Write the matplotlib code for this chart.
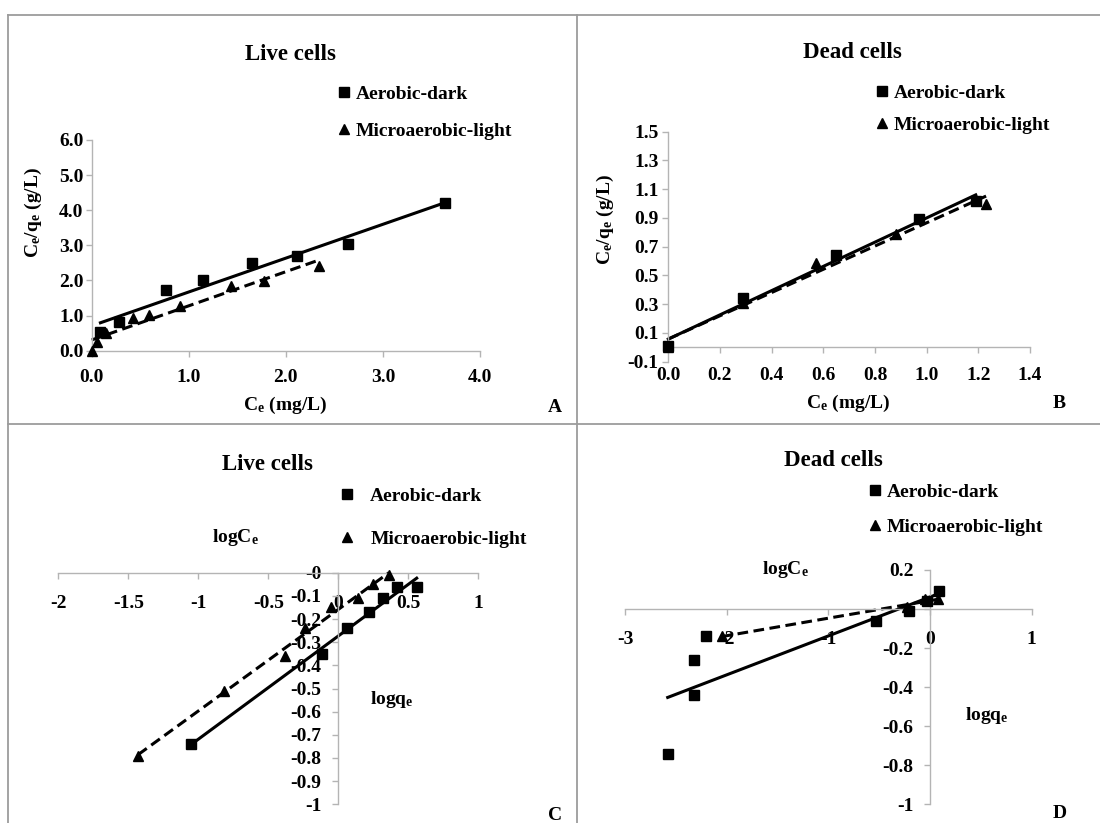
import numpy as np
import matplotlib
matplotlib.use('Agg')
import matplotlib.pyplot as plt
from matplotlib.lines import Line2D
from matplotlib.ticker import FuncFormatter

plt.rcParams['font.family'] = 'Liberation Serif'
plt.rcParams['font.weight'] = 'bold'
plt.rcParams['mathtext.fontset'] = 'custom'
plt.rcParams['mathtext.rm'] = 'Liberation Serif:bold'
plt.rcParams['mathtext.it'] = 'Liberation Serif:bold'
plt.rcParams['mathtext.bf'] = 'Liberation Serif:bold'
plt.rcParams['axes.unicode_minus'] = False

# A - Langmuir, live cells: Ce (mg/L) vs Ce/qe (g/L)
a_dark_ce = [0.09, 0.28, 0.77, 1.15, 1.65, 2.11, 2.64, 3.64]
a_dark_cq = [0.54, 0.83, 1.73, 2.01, 2.49, 2.71, 3.04, 4.20]
a_light_ce = [0.00, 0.05, 0.15, 0.43, 0.59, 0.91, 1.44, 1.77, 2.34]
a_light_cq = [0.00, 0.26, 0.49, 0.92, 1.03, 1.27, 1.84, 1.99, 2.42]

# B - Langmuir, dead cells
b_dark_ce = [0.00, 0.29, 0.65, 0.97, 1.19]
b_dark_cq = [0.01, 0.34, 0.64, 0.89, 1.02]
b_light_ce = [0.00, 0.29, 0.57, 0.88, 1.23]
b_light_cq = [0.00, 0.31, 0.59, 0.79, 1.00]

# C - Freundlich, live cells: logCe vs logqe
c_dark_x = [-1.05, -0.12, 0.06, 0.22, 0.32, 0.42, 0.56]
c_dark_y = [-0.74, -0.35, -0.24, -0.17, -0.11, -0.06, -0.06]
c_light_x = [-1.43, -0.82, -0.38, -0.24, -0.05, 0.14, 0.25, 0.36]
c_light_y = [-0.79, -0.51, -0.36, -0.24, -0.15, -0.11, -0.05, -0.01]

# D - Freundlich, dead cells
d_dark_x = [-2.58, -2.32, -2.32, -2.20, -0.53, -0.21, -0.03, 0.09]
d_dark_y = [-0.74, -0.44, -0.26, -0.14, -0.06, -0.01, 0.04, 0.09]
d_light_x = [-2.05, -0.23, -0.05, 0.08]
d_light_y = [-0.14, 0.01, 0.05, 0.05]

legend_labels = ['Aerobic-dark', 'Microaerobic-light']

W, H = 1100, 823
fig = plt.figure(figsize=(W / 100, H / 100), dpi=100)
fig.patch.set_facecolor('white')

AX_GREY = '#b4b4b4'
FS = 14


def add_ax(left, right, top, bottom):
    return fig.add_axes([left / W, 1 - bottom / H, (right - left) / W, (bottom - top) / H])


def ftext(x, y, s, **kw):
    kw.setdefault('fontsize', FS)
    kw.setdefault('ha', 'center')
    kw.setdefault('va', 'center')
    fig.text(x / W, 1 - y / H, s, **kw)


def style(ax):
    for s in ['top', 'right']:
        ax.spines[s].set_visible(False)
    for s in ['left', 'bottom']:
        ax.spines[s].set_color(AX_GREY)
        ax.spines[s].set_linewidth(1.0)
    ax.tick_params(colors=AX_GREY, labelcolor='black', labelsize=FS, width=1.0, length=4)
    ax.patch.set_alpha(0)


def series(ax, x, y, marker, ls, ms):
    ax.plot(x, y, ls='none', marker=marker, color='black', ms=ms, clip_on=False, zorder=3)
    fit = np.polyfit(x, y, 1)
    xs = np.array([min(x), max(x)])
    ax.plot(xs, np.polyval(fit, xs), color='black', lw=2.2, ls=ls, clip_on=False,
            dashes=(3.5, 1.8) if ls == '--' else (None, None), zorder=2)


def legend(ax, x, y, spacing, pad):
    handles = [Line2D([], [], ls='none', marker='s', color='black', ms=6.5),
               Line2D([], [], ls='none', marker='^', color='black', ms=7)]
    ax.legend(handles, legend_labels, loc='upper left', bbox_to_anchor=(x / W, 1 - y / H),
              bbox_transform=fig.transFigure, frameon=False, fontsize=FS,
              handlelength=0.6, handletextpad=pad, labelspacing=spacing,
              borderpad=0, borderaxespad=0)


fmt1 = FuncFormatter(lambda v, p: '%.1f' % v)
fmtg = FuncFormatter(lambda v, p: '%g' % round(v, 2))

# panel frames
for xs_, ys_ in [([8, W], [15, 15]), ([8, W], [424, 424]),
                 ([8, 8], [15, H]), ([577, 577], [15, H])]:
    fig.add_artist(Line2D([v / W for v in xs_], [1 - v / H for v in ys_],
                          transform=fig.transFigure, color='#9c9c9c', lw=1.3))

# ---- A ----
ax = add_ax(91.7, 480, 140, 350.7)
style(ax)
series(ax, a_dark_ce, a_dark_cq, 's', '-', 7)
series(ax, a_light_ce, a_light_cq, '^', '--', 7.5)
ax.set_xlim(0, 4)
ax.set_ylim(0, 6)
ax.set_xticks(np.arange(0, 4.01, 1))
ax.set_yticks(np.arange(0, 6.01, 1))
ax.xaxis.set_major_formatter(fmt1)
ax.yaxis.set_major_formatter(fmt1)
ax.tick_params(axis='x', pad=9)
ax.tick_params(axis='y', pad=2)
legend(ax, 338, 85, 1.0, 0.3)
ftext(290, 55, 'Live cells', fontsize=16.5)
ftext(33, 213, r'C$_\mathrm{e}$/q$_\mathrm{e}$ (g/L)', rotation=90)
ftext(285, 405, r'C$_\mathrm{e}$ (mg/L)')
ftext(555, 408, 'A')

# ---- B ----
ax = add_ax(668.3, 1030, 131.7, 361.7)
style(ax)
series(ax, b_dark_ce, b_dark_cq, 's', '-', 7)
series(ax, b_light_ce, b_light_cq, '^', '--', 7.5)
ax.set_xlim(0, 1.4)
ax.set_ylim(-0.1, 1.5)
ax.spines['bottom'].set_position(('data', 0))
ax.set_xticks(np.arange(0, 1.41, 0.2))
ax.set_yticks(np.arange(-0.1, 1.51, 0.2))
ax.yaxis.set_major_formatter(fmt1)
ax.tick_params(axis='x', labelbottom=False)
ax.tick_params(axis='y', pad=3)
sec = ax.secondary_xaxis(0.0)
sec.spines['bottom'].set_visible(False)
sec.set_xticks(np.arange(0, 1.41, 0.2))
sec.xaxis.set_major_formatter(fmt1)
sec.tick_params(length=0, labelsize=FS, pad=4)
legend(ax, 876, 84, 0.75, 0.3)
ftext(852, 53, 'Dead cells', fontsize=16.5)
ftext(605, 220, r'C$_\mathrm{e}$/q$_\mathrm{e}$ (g/L)', rotation=90)
ftext(848, 403, r'C$_\mathrm{e}$ (mg/L)')
ftext(1059, 403, 'B')

# ---- C ----
ax = add_ax(58.3, 478.3, 572.7, 804.3)
style(ax)
series(ax, c_dark_x, c_dark_y, 's', '-', 7)
series(ax, c_light_x, c_light_y, '^', '--', 7.5)
ax.set_xlim(-2, 1)
ax.set_ylim(-1, 0)
ax.spines['left'].set_position(('data', 0))
ax.spines['bottom'].set_position(('data', 0))
ax.set_xticks(np.arange(-2, 1.01, 0.5))
ax.set_yticks(np.arange(-1, 0.01, 0.1))
ax.xaxis.set_major_formatter(fmtg)
ax.yaxis.set_major_formatter(fmtg)
ax.tick_params(axis='x', pad=12)
ax.tick_params(axis='y', pad=8)
legend(ax, 341, 487, 1.3, 0.9)
ftext(267, 465, 'Live cells', fontsize=16.5)
ftext(235, 538, r'logC$_\mathrm{e}$')
ftext(392, 700, r'logq$_\mathrm{e}$')
ftext(555, 815, 'C')

# ---- D ----
ax = add_ax(625, 1031.7, 570, 804.3)
style(ax)
series(ax, d_dark_x, d_dark_y, 's', '-', 7)
series(ax, d_light_x, d_light_y, '^', '--', 7.5)
ax.set_xlim(-3, 1)
ax.set_ylim(-1, 0.2)
ax.spines['left'].set_position(('data', 0))
ax.spines['bottom'].set_position(('data', 0))
ax.set_xticks(np.arange(-3, 1.01, 1))
ax.set_yticks(np.arange(-1, 0.21, 0.2))
ax.xaxis.set_major_formatter(fmtg)
ax.yaxis.set_major_formatter(FuncFormatter(lambda v, p: '' if abs(v) < 1e-9 else '%g' % round(v, 2)))
ax.tick_params(axis='x', pad=12)
ax.tick_params(axis='y', pad=8)
legend(ax, 869, 483, 0.9, 0.3)
ftext(833, 460, 'Dead cells', fontsize=16.5)
ftext(785, 570, r'logC$_\mathrm{e}$')
ftext(987, 715, r'logq$_\mathrm{e}$')
ftext(1060, 813, 'D')

fig.savefig('out.png', dpi=100, facecolor='white')
